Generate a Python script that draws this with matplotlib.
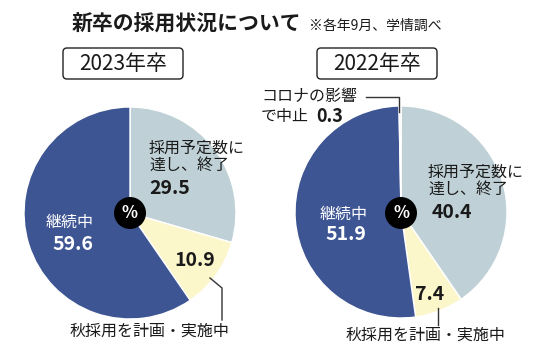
import matplotlib.pyplot as plt
from matplotlib.patches import FancyBboxPatch, Circle

plt.rcParams['font.family'] = ['Noto Sans CJK JP', 'DejaVu Sans']

# data
cats_2023 = ['採用予定数に達し、終了', '秋採用を計画・実施中', '継続中']
vals_2023 = [29.5, 10.9, 59.6]
cats_2022 = ['採用予定数に達し、終了', '秋採用を計画・実施中', '継続中', 'コロナの影響で中止']
vals_2022 = [40.4, 7.4, 51.9, 0.3]

c_done = '#bfd1d6'
c_autumn = '#fcf6cb'
c_cont = '#3e5593'
c_covid = '#f2f4f5'
txt = '#1a1a1a'

W, H = 550, 354
fig = plt.figure(figsize=(W / 100, H / 100), dpi=100)
ax = fig.add_axes([0, 0, 1, 1])


def Y(y):
    return H - y


wp = dict(edgecolor='white', linewidth=1)
ax.pie(vals_2023, colors=[c_done, c_autumn, c_cont], startangle=90,
       counterclock=False, center=(130, Y(213)), radius=106, wedgeprops=wp)
ax.pie(vals_2022, colors=[c_done, c_autumn, c_cont, c_covid], startangle=90,
       counterclock=False, center=(401, Y(212)), radius=106, wedgeprops=wp)

ax.set_xlim(0, W)
ax.set_ylim(0, H)
ax.set_aspect('equal')
ax.axis('off')

# title
ax.text(72, Y(24), '新卒の採用状況について', fontsize=15, fontweight='bold',
        color=txt, va='center', ha='left')
ax.text(309, Y(26), '※各年9月、学情調べ', fontsize=10, color=txt,
        va='center', ha='left')

# year boxes
for x0, lab in [(63, '2023年卒'), (317, '2022年卒')]:
    box = FancyBboxPatch((x0, Y(79)), 120, 31,
                         boxstyle='round,pad=0,rounding_size=4',
                         fc='white', ec='#222222', lw=1)
    ax.add_patch(box)
    ax.text(x0 + 60, Y(64), lab, fontsize=15, color=txt,
            ha='center', va='center')

# % markers
for cx, cy in [(130, 213), (401, 213)]:
    ax.add_patch(Circle((cx, Y(cy)), 16, fc='black', ec='none', zorder=5))
    ax.text(cx, Y(cy), '%', color='white', fontsize=12, fontweight='bold',
            ha='center', va='center', zorder=6)

lab_fs = 11.5
num_fs = 14

# 2023 labels
ax.text(149, Y(157), '採用予定数に\n達し、終了', fontsize=lab_fs, color=txt,
        ha='left', va='center', linespacing=1.0)
ax.text(149, Y(188), f'{vals_2023[0]}', fontsize=num_fs, fontweight='bold',
        color=txt, ha='left', va='center')
ax.text(70, Y(222), '継続中', fontsize=lab_fs, color='white',
        ha='center', va='center')
ax.text(73, Y(245), f'{vals_2023[2]}', fontsize=num_fs, fontweight='bold',
        color='white', ha='center', va='center')
ax.text(195, Y(261), f'{vals_2023[1]}', fontsize=num_fs, fontweight='bold',
        color=txt, ha='center', va='center')
ax.plot([210, 222, 222], [Y(278), Y(288), Y(320)], color='#333333', lw=1)
ax.text(149, Y(331), '秋採用を計画・実施中', fontsize=lab_fs, color=txt,
        ha='center', va='center')

# 2022 labels
ax.text(261, Y(97), 'コロナの影響', fontsize=lab_fs, color=txt,
        ha='left', va='center')
ax.text(261, Y(117), 'で中止', fontsize=lab_fs, color=txt,
        ha='left', va='center')
ax.text(316, Y(117), f'{vals_2022[3]}', fontsize=num_fs - 1, fontweight='bold',
        color=txt, ha='left', va='center')
ax.plot([366, 399, 399], [Y(97), Y(97), Y(112)], color='#333333', lw=1)
ax.text(428, Y(181), '採用予定数に\n達し、終了', fontsize=lab_fs, color=txt,
        ha='left', va='center', linespacing=1.0)
ax.text(432, Y(213), f'{vals_2022[0]}', fontsize=num_fs, fontweight='bold',
        color=txt, ha='left', va='center')
ax.text(344, Y(214), '継続中', fontsize=lab_fs, color='white',
        ha='center', va='center')
ax.text(346, Y(235), f'{vals_2022[2]}', fontsize=num_fs, fontweight='bold',
        color='white', ha='center', va='center')
ax.text(430, Y(295), f'{vals_2022[1]}', fontsize=num_fs, fontweight='bold',
        color=txt, ha='center', va='center')
ax.plot([438, 438], [Y(308), Y(325)], color='#333333', lw=1)
ax.text(425, Y(335), '秋採用を計画・実施中', fontsize=lab_fs, color=txt,
        ha='center', va='center')

fig.savefig('out.png', dpi=100, facecolor='white')
